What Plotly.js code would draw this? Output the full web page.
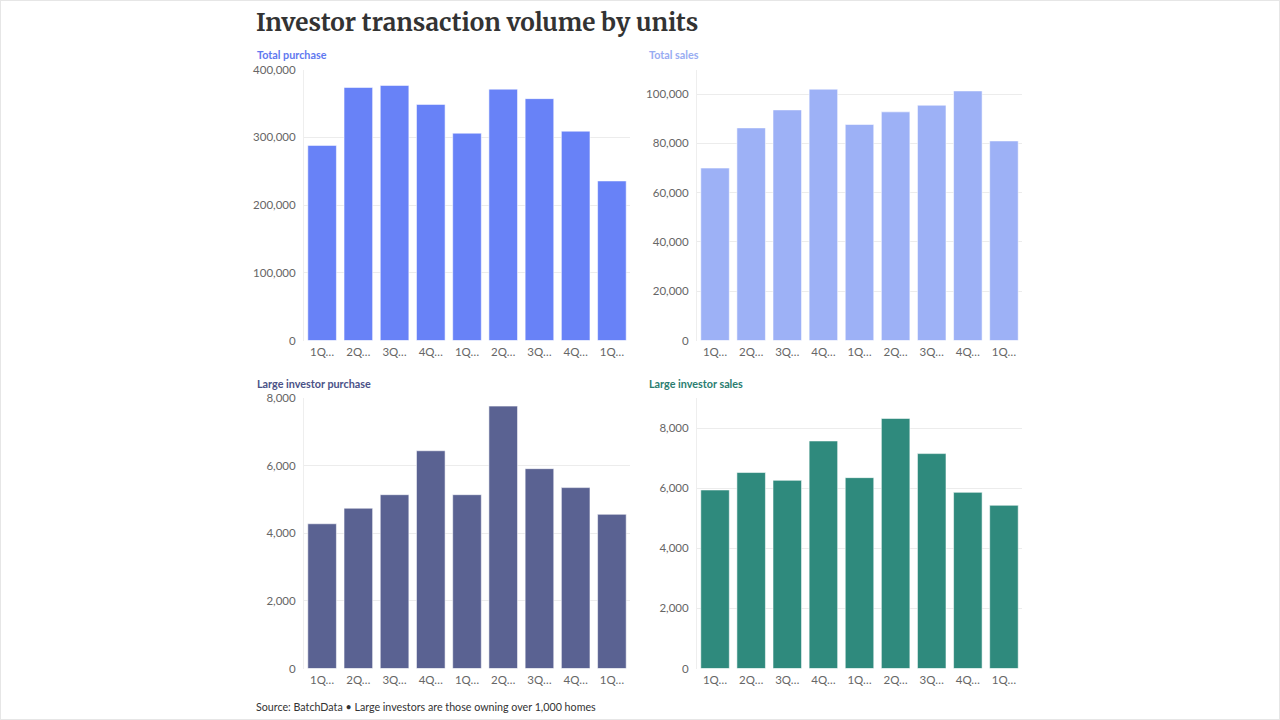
<!DOCTYPE html>
<html>
<head>
<meta charset="utf-8">
<script src="https://cdn.plot.ly/plotly-3.0.1.min.js"></script>
<style>
  html, body { margin: 0; padding: 0; background: #fff; }
  #chart { width: 1280px; height: 720px; }
</style>
</head>
<body>
<div id="chart"></div>
<script>
// Quarterly investor transaction volume (units)
const quarters = ["1Q 2023", "2Q 2023", "3Q 2023", "4Q 2023", "1Q 2024", "2Q 2024", "3Q 2024", "4Q 2024", "1Q 2025"];
const quarterLabels = ["1Q…", "2Q…", "3Q…", "4Q…", "1Q…", "2Q…", "3Q…", "4Q…", "1Q…"];

const totalPurchase = [288000, 373500, 376500, 348500, 306000, 371000, 357000, 309000, 235500];
const totalSales = [70000, 86300, 93600, 102000, 87700, 92800, 95500, 101300, 81000];
const largeInvestorPurchase = [4280, 4740, 5140, 6440, 5140, 7760, 5910, 5350, 4560];
const largeInvestorSales = [5940, 6520, 6260, 7570, 6350, 8320, 7150, 5860, 5430];

const panelTitles = ["Total purchase", "Total sales", "Large investor purchase", "Large investor sales"];
const chartTitle = "Investor transaction volume by units";
const sourceNote = "Source: BatchData \u2022 Large investors are those owning over 1,000 homes";

const W = 1280, H = 720;
const px = v => v / W;
const py = v => 1 - v / H;

const barColors = ["#6882f7", "#9db1f6", "#5a6292", "#2f8a7d"];
const titleColors = ["#5f79f0", "#98acf2", "#4a5287", "#2a7d70"];
const series = [totalPurchase, totalSales, largeInvestorPurchase, largeInvestorSales];

const axisNames = [["x", "y"], ["x2", "y2"], ["x3", "y3"], ["x4", "y4"]];

const traces = series.map((vals, i) => ({
  type: "bar",
  x: quarters,
  y: vals,
  xaxis: axisNames[i][0],
  yaxis: axisNames[i][1],
  marker: { color: barColors[i], line: { color: "rgba(255,255,255,0.55)", width: 1 } },
  hoverinfo: "skip"
}));

const tickFont = { family: "Lato, 'Noto Sans', sans-serif", size: 11.5, color: "#666" };

function xAxis(domain, anchor) {
  return {
    domain: domain,
    anchor: anchor,
    type: "category",
    tickmode: "array",
    tickvals: quarters,
    ticktext: quarterLabels,
    tickfont: tickFont,
    showgrid: false,
    zeroline: false,
    showline: false,
    ticks: "",
    tickangle: 0,
    ticklabelstandoff: 3,
    fixedrange: true
  };
}
function yAxis(domain, anchor, range, dtick) {
  return {
    domain: domain,
    anchor: anchor,
    range: range,
    dtick: dtick,
    tick0: 0,
    tickformat: ",d",
    tickfont: tickFont,
    gridcolor: "#ececec",
    gridwidth: 1,
    zeroline: false,
    showline: true,
    linecolor: "#eeeeee",
    linewidth: 1,
    ticks: "",
    ticklabelstandoff: 5,
    fixedrange: true
  };
}

const leftX = [px(304), px(630)];
const rightX = [px(697), px(1022)];
const topY = [py(340.5), py(69.5)];
const botY = [py(668.5), py(398)];

const layout = {
  width: W,
  height: H,
  margin: { l: 0, r: 0, t: 0, b: 0 },
  paper_bgcolor: "#ffffff",
  plot_bgcolor: "#ffffff",
  showlegend: false,
  bargap: 0.21,
  font: { family: "Lato, 'Noto Sans', sans-serif", color: "#333" },
  title: {
    text: "<b>" + chartTitle + "</b>",
    x: px(256), xanchor: "left", xref: "paper",
    y: py(22), yanchor: "middle", yref: "container",
    font: { family: "Merriweather, 'DejaVu Serif', serif", size: 24.3, color: "#333333" }
  },
  xaxis: xAxis(leftX, "y"),
  yaxis: yAxis(topY, "x", [0, 400000], 100000),
  xaxis2: xAxis(rightX, "y2"),
  yaxis2: yAxis(topY, "x2", [0, 110000], 20000),
  xaxis3: xAxis(leftX, "y3"),
  yaxis3: yAxis(botY, "x3", [0, 8000], 2000),
  xaxis4: xAxis(rightX, "y4"),
  yaxis4: yAxis(botY, "x4", [0, 9000], 2000),
  annotations: [
    { text: "<b>" + panelTitles[0] + "</b>", x: px(255), y: py(55), color: titleColors[0] },
    { text: "<b>" + panelTitles[1] + "</b>", x: px(647), y: py(55), color: titleColors[1] },
    { text: "<b>" + panelTitles[2] + "</b>", x: px(255), y: py(383), color: titleColors[2] },
    { text: "<b>" + panelTitles[3] + "</b>", x: px(647), y: py(383), color: titleColors[3] }
  ].map(a => ({
    text: a.text, x: a.x, y: a.y, xref: "paper", yref: "paper",
    xanchor: "left", yanchor: "middle", showarrow: false,
    font: { family: "Lato, 'Noto Sans', sans-serif", size: 10.8, color: a.color }
  })).concat([{
    text: sourceNote, x: px(254), y: py(706), xref: "paper", yref: "paper",
    xanchor: "left", yanchor: "middle", showarrow: false,
    font: { family: "Lato, 'Noto Sans', sans-serif", size: 10.7, color: "#333" }
  }]),
  shapes: [{
    type: "rect", xref: "paper", yref: "paper", x0: 0, x1: 1, y0: 0, y1: 1,
    line: { color: "#e6e6e6", width: 2 }, fillcolor: "rgba(0,0,0,0)"
  }]
};

Plotly.newPlot("chart", traces, layout, { staticPlot: true, displayModeBar: false });
</script>
</body>
</html>
